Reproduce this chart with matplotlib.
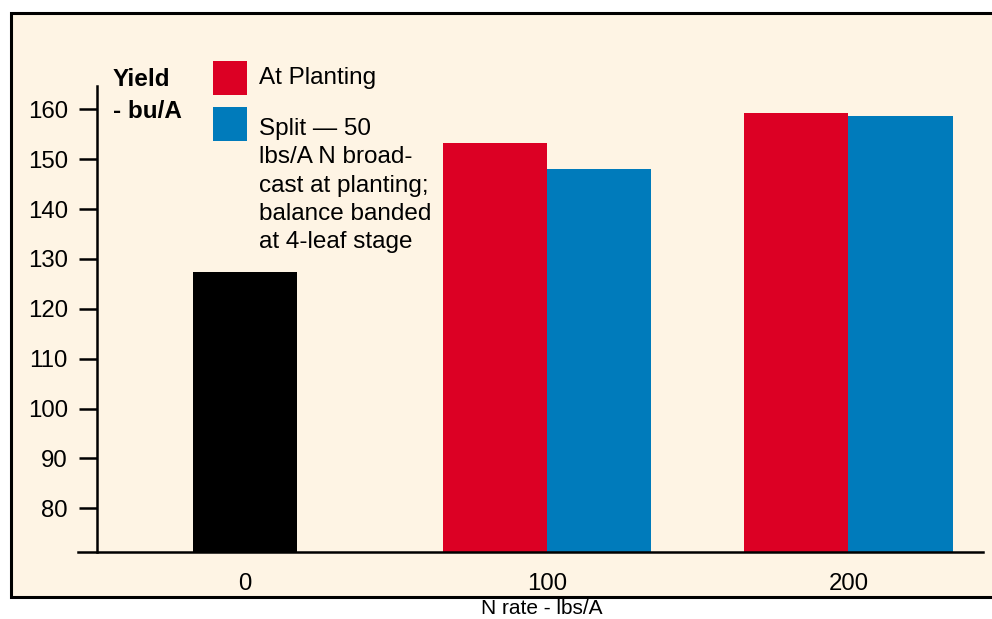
import matplotlib.pyplot as plt
from matplotlib.patches import Rectangle
from matplotlib.lines import Line2D

plt.rcParams['font.family'] = ['Liberation Sans', 'DejaVu Sans']

# yield by N rate
n_rates = ["0", "100", "200"]
check_yield = [127.3]
at_planting = [153.2, 159.3]
split_applied = [148.0, 158.7]

RED = "#dc0024"
BLUE = "#007bbb"
CREAM = "#fef4e4"

fig = plt.figure(figsize=(9.92, 6.19), dpi=100)
fig.patch.set_facecolor("white")

# cream panel with black border
W, H = 992.0, 619.0
fig.patches.append(Rectangle((11 / W, 1 - 597 / H), 990 / W, 584 / H,
                             transform=fig.transFigure, facecolor=CREAM,
                             edgecolor="black", linewidth=2.2, zorder=-5))

ax = fig.add_axes([97 / W, 1 - 552 / H, 886 / W, 466 / H])
ax.set_facecolor("none")

w = 0.345
ax.bar([0], check_yield, width=w, color="black")
ax.bar([1 - w / 2, 2 - w / 2], at_planting, width=w, color=RED)
ax.bar([1 + w / 2, 2 + w / 2], split_applied, width=w, color=BLUE)

ax.set_xlim(-0.491, 2.446)
ax.set_ylim(71.24, 164.67)
ax.set_yticks(range(80, 161, 10))
ax.set_xticks([0, 1, 2])
ax.set_xticklabels(n_rates)

for s in ["top", "right", "bottom"]:
    ax.spines[s].set_visible(False)
ax.spines["left"].set_linewidth(1.8)
ax.tick_params(axis="y", length=13, width=1.8, pad=8, labelsize=17.3)
ax.tick_params(axis="x", length=0, pad=15, labelsize=17.3)

# x axis line runs a little past the y axis
ax.add_line(Line2D([-19 / 886, 1], [0, 0], transform=ax.transAxes,
                   color="black", linewidth=1.8, clip_on=False))

fig.text(542 / W, 1 - 609 / H, "N rate - lbs/A", ha="center", va="center",
         fontsize=15)

# y axis title
fig.text(113 / W, 1 - 79 / H, "Yield", ha="left", va="center",
         fontsize=17.5, fontweight="bold")
fig.text(113 / W, 1 - 111 / H, "- bu/A", ha="left", va="center",
         fontsize=17.5, fontweight="bold")

# legend
fig.patches.append(Rectangle((213 / W, 1 - 95 / H), 34 / W, 34 / H,
                             transform=fig.transFigure, facecolor=RED,
                             edgecolor="none"))
fig.patches.append(Rectangle((213 / W, 1 - 141 / H), 34 / W, 34 / H,
                             transform=fig.transFigure, facecolor=BLUE,
                             edgecolor="none"))
fig.text(259 / W, 1 - 78 / H, "At Planting", ha="left", va="center",
         fontsize=17.5)
fig.text(259 / W, 1 - 118 / H,
         "Split \u2014 50\nlbs/A N broad-\ncast at planting;\nbalance banded\nat 4-leaf stage",
         ha="left", va="top", fontsize=17.5, linespacing=1.37)

fig.savefig("out.png", dpi=100)
